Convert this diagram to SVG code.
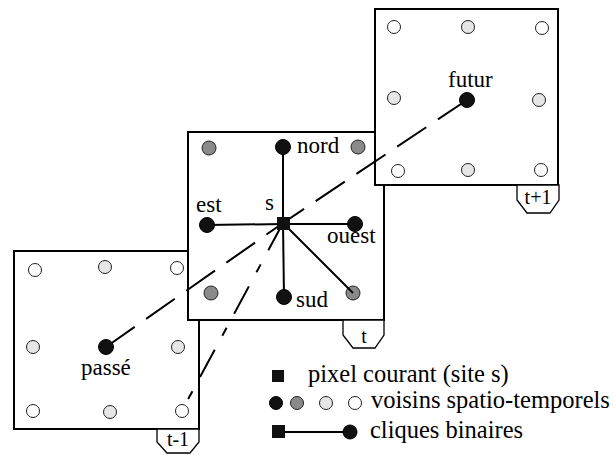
<svg xmlns="http://www.w3.org/2000/svg" width="614" height="455" viewBox="0 0 614 455">
<style>
.box{fill:#fff;stroke:#000;stroke-width:2}
.tab{fill:#fff;stroke:#000;stroke-width:1.3}
.lbl{font-family:"Liberation Serif","DejaVu Serif",serif;font-size:23px;fill:#000}
.tl{font-family:"Liberation Serif","DejaVu Serif",serif;font-size:20px;fill:#000;text-anchor:middle}
.leg{font-family:"Liberation Serif","DejaVu Serif",serif;font-size:24.5px;fill:#000}
.blk{fill:#111;stroke:#000;stroke-width:1}
.gry{fill:#8a8a8a;stroke:#222;stroke-width:1}
.lgt{fill:#e6e6e6;stroke:#222;stroke-width:1}
.wht{fill:#fff;stroke:#222;stroke-width:1}
.solid{stroke:#000;stroke-width:2;fill:none}
.dash{stroke:#000;stroke-width:2;fill:none;stroke-dasharray:35 14}
.dash2{stroke:#000;stroke-width:2;fill:none;stroke-dasharray:31 16 9 16}
</style>
<!-- frame t-1 -->
<g id="frame-tm1">
<rect class="box" x="14" y="251" width="185" height="178"/>
<polygon class="tab" points="157,429 157,442 167,453 190,453 199,442 199,429"/>
<text class="tl" x="178" y="446">t-1</text>
<circle class="wht" cx="35" cy="270" r="6.5"/>
<circle class="lgt" cx="105" cy="267" r="6.5"/>
<circle class="wht" cx="177" cy="268" r="6.5"/>
<circle class="lgt" cx="33" cy="347" r="6.5"/>
<circle class="lgt" cx="178" cy="347" r="6.5"/>
<circle class="wht" cx="33" cy="411" r="6.5"/>
<circle class="lgt" cx="110" cy="412" r="6.5"/>
<circle class="wht" cx="182" cy="411" r="6.5"/>
</g>
<!-- frame t -->
<g id="frame-t">
<rect class="box" x="188" y="132" width="196" height="188"/>
<polygon class="tab" points="343,320 343,335 353,348 375,348 384,335 384,320"/>
<text class="tl" x="364" y="343">t</text>
<circle class="gry" cx="209" cy="148" r="7"/>
<circle class="gry" cx="358" cy="147" r="7"/>
<circle class="gry" cx="211" cy="293" r="7"/>
</g>
<!-- frame t+1 -->
<g id="frame-tp1">
<rect class="box" x="375" y="9" width="183" height="176"/>
<polygon class="tab" points="517,185 517,200 527,213 550,213 559,200 559,185"/>
<text class="tl" x="538" y="204">t+1</text>
<circle class="wht" cx="394" cy="27" r="6.5"/>
<circle class="lgt" cx="468" cy="27" r="6.5"/>
<circle class="wht" cx="542" cy="28" r="6.5"/>
<circle class="lgt" cx="394" cy="98" r="6.5"/>
<circle class="lgt" cx="539" cy="100" r="6.5"/>
<circle class="wht" cx="398" cy="171" r="6.5"/>
<circle class="lgt" cx="468" cy="170" r="6.5"/>
<circle class="wht" cx="541" cy="170" r="6.5"/>
</g>
<!-- connectors -->
<g id="connectors">
<line class="solid" x1="283" y1="223" x2="283" y2="147"/>
<line class="solid" x1="283" y1="223" x2="284" y2="297"/>
<line class="solid" x1="283" y1="224" x2="207" y2="225"/>
<line class="solid" x1="283" y1="224" x2="355" y2="224"/>
<line class="dash" x1="467" y1="100" x2="283" y2="223"/>
<line class="dash" x1="106" y1="347" x2="283" y2="223"/>
<line class="dash2" x1="283" y1="223" x2="185" y2="405"/>
</g>
<g id="nord"><circle class="blk" cx="283" cy="147" r="7.5"/><text class="lbl" x="297" y="153">nord</text></g>
<g id="est"><circle class="blk" cx="207" cy="225" r="7.5"/><text class="lbl" x="196" y="212">est</text></g>
<g id="ouest"><circle class="blk" cx="355" cy="224" r="7.5"/><text class="lbl" x="327" y="243">ouest</text></g>
<g id="sud"><circle class="blk" cx="284" cy="297" r="7.5"/><text class="lbl" x="296" y="307">sud</text></g>
<g id="diag"><circle class="gry" cx="353" cy="293" r="7"/><line class="solid" x1="283" y1="223" x2="353" y2="293"/></g>
<g id="s"><rect x="277" y="217" width="13" height="13" fill="#111"/><text class="lbl" x="265" y="210">s</text></g>
<g id="futur"><circle class="blk" cx="467" cy="100" r="7.5"/><text class="lbl" x="448" y="87">futur</text></g>
<g id="passe"><circle class="blk" cx="106" cy="347" r="7.5"/><text class="lbl" x="81" y="375">passé</text></g>
<!-- legend -->
<g id="legend">
<rect x="272" y="370" width="12" height="12" fill="#111"/>
<text class="leg" x="308" y="382">pixel courant (site s)</text>
<circle class="blk" cx="276" cy="403" r="6.5"/>
<circle class="gry" cx="297" cy="403" r="6.5"/>
<circle class="lgt" cx="326" cy="403" r="6.5"/>
<circle class="wht" cx="355" cy="403" r="6.5"/>
<text class="leg" x="371" y="408">voisins spatio-temporels</text>
<rect x="272" y="425" width="13" height="13" fill="#111"/>
<line class="solid" x1="285" y1="432" x2="350" y2="432"/>
<circle class="blk" cx="350" cy="432" r="7"/>
<text class="leg" x="370" y="438">cliques binaires</text>
</g>
</svg>
